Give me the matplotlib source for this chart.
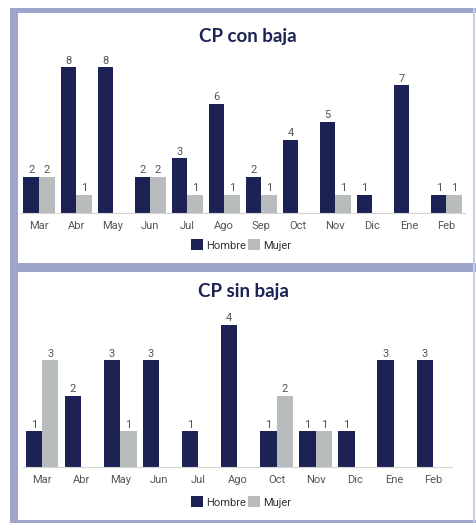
import matplotlib
matplotlib.use("Agg")
import matplotlib.pyplot as plt
from matplotlib.patches import Rectangle, Patch
import numpy as np

# --- data -------------------------------------------------------------
meses_con = ["Mar", "Abr", "May", "Jun", "Jul", "Ago", "Sep", "Oct", "Nov", "Dic", "Ene", "Feb"]
hombre_con = [2, 8, 8, 2, 3, 6, 2, 4, 5, 1, 7, 1]
mujer_con = [2, 1, 0, 2, 1, 1, 1, 0, 1, 0, 0, 1]

meses_sin = ["Mar", "Abr", "May", "Jun", "Jul", "Ago", "Oct", "Nov", "Dic", "Ene", "Feb"]
hombre_sin = [1, 2, 3, 3, 1, 4, 1, 1, 1, 3, 3]
mujer_sin = [3, 0, 1, 0, 0, 0, 2, 1, 0, 0, 0]

titulos = ["CP con baja", "CP sin baja"]
series = ["Hombre", "Mujer"]

# --- style ------------------------------------------------------------
NAVY = "#1c2354"
GRIS = "#b9bcbc"
LAVANDA = "#9da5cd"
TEXTO = "#555555"
plt.rcParams["font.family"] = ["Roboto", "DejaVu Sans"]

W, H = 477, 523
fig = plt.figure(figsize=(W / 100, H / 100), dpi=100)
fig.patch.set_facecolor("white")

# frame around the two panels (pixel coordinates)
bg = fig.add_axes([0, 0, 1, 1], zorder=-1)
bg.set_xlim(0, W)
bg.set_ylim(H, 0)
bg.axis("off")
for (x0, y0, w, h, c) in [
    (10, 8, 8, H - 8, LAVANDA),      # left
    (10, 8, W - 10, 5, LAVANDA),     # top
    (10, 263, W - 10, 9, LAVANDA),   # divider
    (10, 520, W - 10, 3, LAVANDA),   # bottom
    (473, 8, 2, H - 8, "#c9cde3"),   # right edge
]:
    bg.add_patch(Rectangle((x0, y0), w, h, facecolor=c, edgecolor="none"))


def panel(rect, meses, hombre, mujer, ymax, titulo, title_x, title_y, legend_y):
    ax = fig.add_axes(rect)
    x = np.arange(len(meses))
    bw = 0.42
    b1 = ax.bar(x - bw / 2, hombre, bw, color=NAVY, label=series[0])
    b2 = ax.bar(x + bw / 2, mujer, bw, color=GRIS, label=series[1])
    for bars, vals in ((b1, hombre), (b2, mujer)):
        ax.bar_label(bars, labels=[str(v) if v else "" for v in vals],
                     padding=1.2, fontsize=8, color=TEXTO)
    ax.set_xlim(-0.5, len(meses) - 0.5)
    ax.set_ylim(0, ymax)
    ax.set_xticks(x)
    ax.set_xticklabels(meses, fontsize=8, color=TEXTO)
    ax.tick_params(axis="x", length=0, pad=6)
    ax.set_yticks([])
    for s in ("top", "right", "left"):
        ax.spines[s].set_visible(False)
    ax.spines["bottom"].set_color("#d4d4d4")
    ax.spines["bottom"].set_linewidth(0.8)
    ax.set_facecolor("none")
    fig.text(title_x, title_y, titulo, ha="center", va="center",
             fontsize=13.5, fontweight="bold", color=NAVY,
             family=["Lato", "DejaVu Sans"])
    handles = [Patch(facecolor=NAVY), Patch(facecolor=GRIS)]
    fig.legend(handles, series, loc="center", bbox_to_anchor=(0.505, legend_y),
               ncol=2, frameon=False, fontsize=8, handlelength=1.15,
               handleheight=1.15, handletextpad=0.25, columnspacing=0.15,
               labelcolor="#333333")
    return ax


panel([20.5 / W, 1 - 213 / H, 444.5 / W, 164 / H],
      meses_con, hombre_con, mujer_con, 9, titulos[0], 248 / W, 1 - 36 / H, 1 - 245 / H)
panel([22.5 / W, 1 - 466.7 / H, 430 / W, 159.4 / H],
      meses_sin, hombre_sin, mujer_sin, 4.5, titulos[1], 243 / W, 1 - 292 / H, 1 - 502 / H)

fig.savefig("out.png", dpi=100)
